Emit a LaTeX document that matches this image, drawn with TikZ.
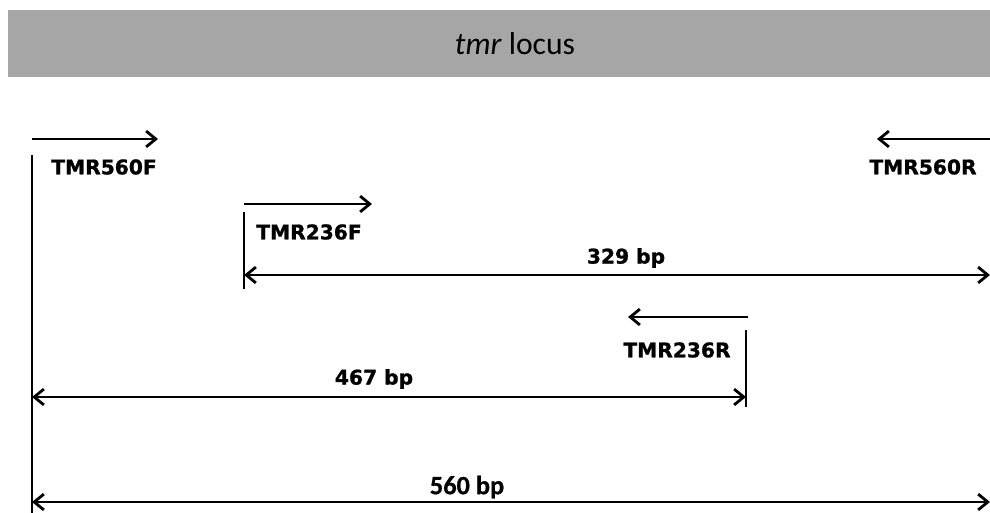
\documentclass[tikz,border=0pt]{standalone}
\usepackage{fontspec}
\setmainfont{DejaVu Sans}[BoldFeatures={FakeBold=1.2}]
\newfontfamily\calibri{Carlito}[BoldFeatures={FakeBold=0.8}]
\usetikzlibrary{arrows.meta}

\begin{document}
\begin{tikzpicture}[x=0.02cm,y=-0.02cm,>={Straight Barb[length=5.5pt,width=9pt]},line width=1.6pt,
    primer/.style={font=\bfseries\fontsize{11.5}{13}\selectfont,inner sep=0pt},
    size/.style={font=\bfseries\fontsize{11.5}{13}\selectfont,inner sep=0pt}]
    \useasboundingbox (0,0) rectangle (990,513);
    \definecolor{banner}{HTML}{A6A6A6}
    % title bar
    \fill[banner] (8,10) rectangle (990,77);
    \node[font=\calibri\fontsize{18}{20}\selectfont,inner sep=0pt] (title) at (515,44) {\textit{tmr} locus};
    % primer ends and marks
    \coordinate (Fa) at (32,139);   \coordinate (Fb) at (158,139);
    \coordinate (Ra) at (990,139);  \coordinate (Rb) at (877,139);
    \coordinate (fa) at (244,204);  \coordinate (fb) at (372,204);
    \coordinate (ra) at (748,317);  \coordinate (rb) at (628,317);
    \coordinate (Ftop) at (32,155); \coordinate (Fbot) at (32,513);
    \coordinate (ftop) at (244,212); \coordinate (fbot) at (244,289);
    \coordinate (rtop) at (746,330); \coordinate (rbot) at (746,407);
    \coordinate (end) at (990,0);
    % primers
    \draw[->] (Fa) -- (Fb);
    \draw[->] (Ra) -- (Rb);
    \draw[->] (fa) -- (fb);
    \draw[->] (ra) -- (rb);
    \draw (Ftop) -- (Fbot);
    \draw (ftop) -- (fbot);
    \draw (rtop) -- (rbot);
    \node[primer] (TF) at (104,167) {TMR560F};
    \node[primer] (TR) at (923,167) {TMR560R};
    \node[primer] (tf) at (309,232) {TMR236F};
    \node[primer] (tr) at (677,350) {TMR236R};
    % products
    \draw[<->] (ftop |- 0,275) coordinate (p329a) -- (end |- 0,275) coordinate (p329b);
    \draw[<->] (Ftop |- 0,397) coordinate (p467a) -- (rtop |- 0,397) coordinate (p467b);
    \draw[<->] (Ftop |- 0,502) coordinate (p560a) -- (end |- 0,502) coordinate (p560b);
    \node[size] (l329) at (626,258) {329 bp};
    \node[size] (l467) at (374,379) {467 bp};
    \node[size,font=\calibri\bfseries\fontsize{15}{17}\selectfont] (l560) at (467,487) {560 bp};
\end{tikzpicture}
\end{document}
